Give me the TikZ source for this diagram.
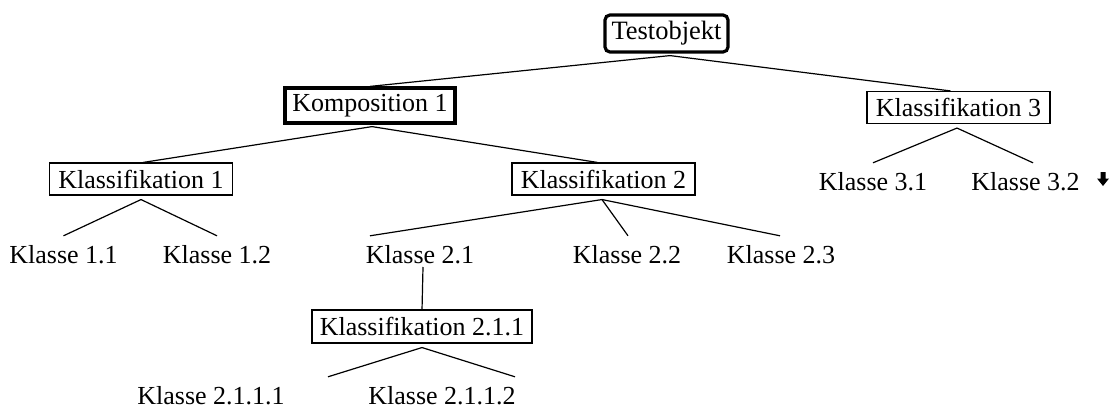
\documentclass[tikz,border=0pt]{standalone}
\usepackage{fontspec}
\setmainfont{Liberation Serif}
\begin{document}
\begin{tikzpicture}[x=1pt,y=-1pt,
  every node/.style={font=\fontsize{26}{30}\selectfont, inner sep=0pt},
  box/.style={draw, line width=1.1pt, minimum width=183pt, minimum height=32pt},
  strongbox/.style={draw, line width=3.2pt},
  leaf/.style={anchor=base, text height=17pt, text depth=5pt, inner ysep=10pt},
  edge/.style={line width=1.2pt}]
\useasboundingbox (0,0) rectangle (1113,412);

% boxed nodes
\node[strongbox, rounded corners=5pt, minimum width=123pt, minimum height=37pt,
      font=\fontsize{26.5}{30}\selectfont] (root) at (666.5,33.5) {Testobjekt};
\node[strongbox, minimum width=170pt, minimum height=35pt] (komp) at (370,105.5) {Komposition 1};
\node[box] (kl3) at (958.5,107.5) {Klassifikation 3};
\node[box] (kl1) at (141,179) {Klassifikation 1};
\node[box] (kl2) at (603.5,179) {Klassifikation 2};
\node[box, minimum width=220pt, minimum height=33pt] (kl211) at (422,326.5) {Klassifikation 2.1.1};

% leaf classes (placed on their baselines)
\node[leaf] (k11) at (63.5,263) {Klasse 1.1};
\node[leaf] (k12) at (217,263) {Klasse 1.2};
\node[leaf] (k21) at (420,263) {Klasse 2.1};
\node[leaf] (k22) at (627,263) {Klasse 2.2};
\node[leaf] (k23) at (781,263) {Klasse 2.3};
\node[leaf] (k31) at (873,190) {Klasse 3.1};
\node[leaf] (k32) at (1025.5,190) {Klasse 3.2};
\node[leaf] (k2111) at (211,404) {Klasse 2.1.1.1};
\node[leaf] (k2112) at (442,404) {Klasse 2.1.1.2};

% small down arrow beside Klasse 3.2
\fill (1100.5,172) -- (1105.5,172) -- (1105.5,178.5) -- (1109,178.5) -- (1103,186)
      -- (1097,178.5) -- (1100.5,178.5) -- cycle;

% connectors
\draw[edge] ([xshift=3.5pt,yshift=-2pt]root.south) -- (komp.north);
\draw[edge] ([xshift=3.5pt,yshift=-2pt]root.south) -- ([xshift=-8pt]kl3.north);
\draw[edge] ([xshift=2pt,yshift=-2pt]komp.south) -- ([xshift=2pt]kl1.north);
\draw[edge] ([xshift=2pt,yshift=-2pt]komp.south) -- ([xshift=-6pt]kl2.north);
\draw[edge] ([yshift=-4pt]kl1.south) -- (k11.north);
\draw[edge] ([yshift=-4pt]kl1.south) -- (k12.north);
\draw[edge] ([xshift=-1.5pt,yshift=-4pt]kl2.south) -- ([xshift=-50pt]k21.north);
\draw[edge] ([xshift=-1.5pt,yshift=-4pt]kl2.south) -- ([xshift=1pt]k22.north);
\draw[edge] ([xshift=-1.5pt,yshift=-4pt]kl2.south) -- ([xshift=-1pt]k23.north);
\draw[edge] ([xshift=-1.5pt,yshift=-4pt]kl3.south) -- (k31.north);
\draw[edge] ([xshift=-1.5pt,yshift=-4pt]kl3.south) -- ([xshift=7.5pt]k32.north);
\draw[edge] ([xshift=3pt,yshift=-4pt]k21.base) -- ([yshift=-1pt]kl211.north);
\draw[edge] ([yshift=-4pt]kl211.south) -- ([xshift=117pt]k2111.north);
\draw[edge] ([yshift=-4pt]kl211.south) -- ([xshift=73pt]k2112.north);
\end{tikzpicture}
\end{document}
